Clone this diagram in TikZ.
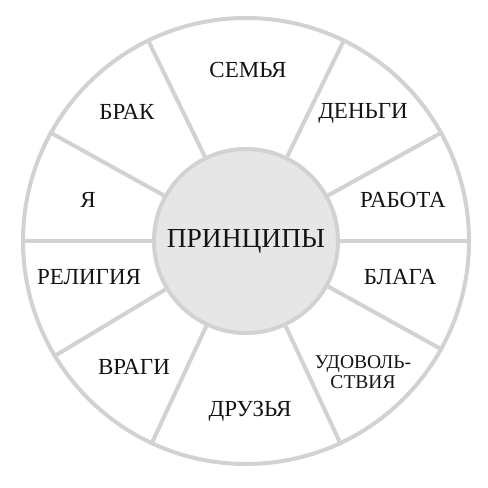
\documentclass[tikz,border=0pt]{standalone}
\usepackage{fontspec}
\setmainfont{Liberation Serif}
\begin{document}
\begin{tikzpicture}[x=1pt,y=1pt,
  ring/.style={circle, draw=linegray, line width=4pt, inner sep=0pt},
  spoke/.style={draw=linegray, line width=4pt},
  lbl/.style={font=\fontsize{23}{25}\selectfont, text=black!92, align=center, inner sep=0pt}]
\definecolor{linegray}{HTML}{D2D2D2}
\definecolor{hubfill}{HTML}{E6E6E6}
\useasboundingbox (0,0) rectangle (488,488);
\fill[white] (0,0) rectangle (488,488);
\coordinate (c) at (246,247);
\node[ring, minimum size=446pt] (outer) at (c) {};
\node[ring, fill=hubfill, minimum size=184pt, font=\fontsize{27.5}{30}\selectfont, text=black!92] (hub) at (c) {ПРИНЦИПЫ};
\foreach \a in {0,29,64,116,151,180,211,245,295,331}
  \draw[spoke] (hub.\a) -- (outer.\a);
\node[lbl] (semya) at (248,418) {СЕМЬЯ};
\node[lbl] (dengi) at (363,375) {ДЕНЬГИ};
\node[lbl] (brak) at (127,376) {БРАК};
\node[lbl] (ya) at (88,288) {Я};
\node[lbl] (rabota) at (403,288) {РАБОТА};
\node[lbl] (religiya) at (89,211) {РЕЛИГИЯ};
\node[lbl] (blaga) at (400,211) {БЛАГА};
\node[lbl] (vragi) at (134,121) {ВРАГИ};
\node[lbl, font=\fontsize{19.5}{19.5}\selectfont] (udov) at (363,116) {УДОВОЛЬ-\\СТВИЯ};
\node[lbl] (druzya) at (250,77) {ДРУЗЬЯ};
\end{tikzpicture}
\end{document}
